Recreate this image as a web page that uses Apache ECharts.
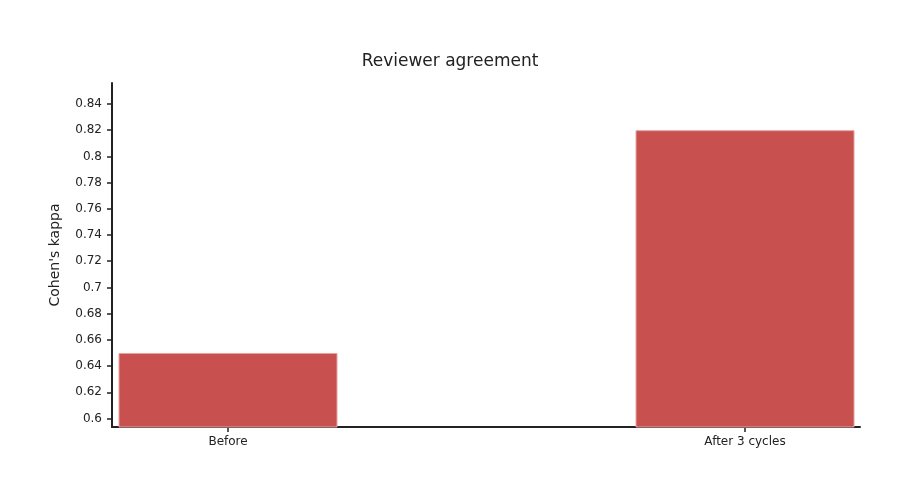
<!DOCTYPE html>
<html>
<head>
<meta charset="utf-8">
<script src="https://cdn.jsdelivr.net/npm/echarts@6/dist/echarts.min.js"></script>
<style>html,body{margin:0;padding:0;background:#fff}#c{width:900px;height:500px}</style>
</head>
<body>
<div id="c"></div>
<script>
const categories = ['Before', 'After 3 cycles'];
const kappaValues = [0.65, 0.82];
const yTicks = [0.6, 0.62, 0.64, 0.66, 0.68, 0.7, 0.72, 0.74, 0.76, 0.78, 0.8, 0.82, 0.84];

const FONT = 'DejaVu Sans';
const TXT = '#222';
const chart = echarts.init(document.getElementById('c'));
chart.setOption({
  animation: false,
  textStyle: { fontFamily: FONT },
  title: {
    text: 'Reviewer agreement', left: 'center', top: 48,
    textStyle: { fontFamily: FONT, fontSize: 17, fontWeight: 'normal', color: TXT }
  },
  grid: { left: 112, right: 40, top: 83, bottom: 73 },
  xAxis: {
    type: 'value', min: -0.2244, max: 1.2224,
    splitLine: { show: false },
    axisLine: { show: true, onZero: false, lineStyle: { color: TXT, width: 2 } },
    axisTick: { show: true, length: 5, customValues: categories.map((c, i) => i), lineStyle: { color: TXT, width: 1.5 } },
    axisLabel: { customValues: categories.map((c, i) => i), margin: 9, fontSize: 12, color: TXT, fontFamily: FONT,
      formatter: v => categories[Math.round(v)] }
  },
  yAxis: {
    type: 'value', min: 0.5935, max: 0.856,
    name: "Cohen's kappa", nameLocation: 'middle', nameGap: 50,
    nameTextStyle: { fontSize: 14, color: TXT, fontFamily: FONT },
    splitLine: { show: false },
    axisLine: { show: true, onZero: false, lineStyle: { color: TXT, width: 2 } },
    axisTick: { show: true, length: 5, customValues: yTicks, lineStyle: { color: TXT, width: 1.5 } },
    axisLabel: { customValues: yTicks, margin: 10, fontSize: 12, color: TXT, fontFamily: FONT,
      formatter: v => String(+v.toFixed(2)) }
  },
  series: [{
    type: 'bar',
    barWidth: 219,
    data: categories.map((c, i) => [i, kappaValues[i]]),
    itemStyle: { color: '#c8504f', borderColor: '#e7a3a2', borderWidth: 1 }
  }]
});
</script>
</body>
</html>
